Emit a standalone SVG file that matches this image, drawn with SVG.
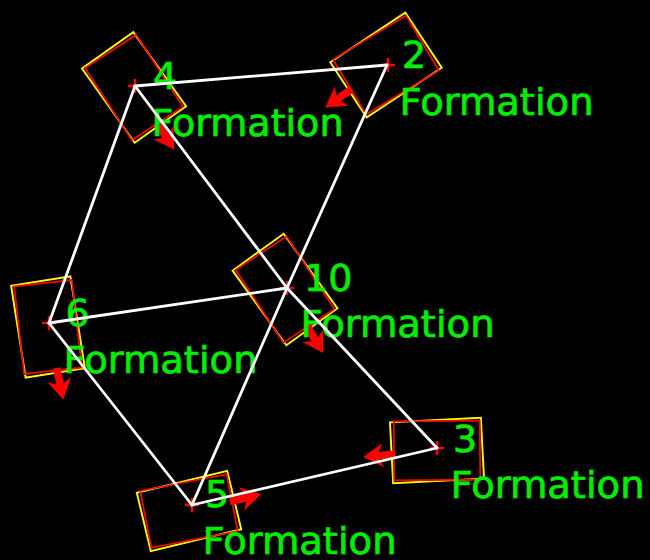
<svg xmlns="http://www.w3.org/2000/svg" xmlns:xlink="http://www.w3.org/1999/xlink" width="650" height="560" viewBox="0 0 650 560">
<style>
.y{fill:none;stroke:#ffff00;stroke-width:1.9}
.r{fill:none;stroke:#ff0000;stroke-width:1.7}
.arr{fill:#ff0000}
.x{fill:none;stroke:#ff0000;stroke-width:2.5}
.t{fill:#00ee00;stroke:#00ee00;stroke-width:0.7;font-family:"DejaVu Sans","Liberation Sans",sans-serif;font-size:38px}
.c line{stroke:#ffffff;stroke-width:2.8;stroke-linecap:round}
</style>
<defs>
<polygon id="arrow" points="42,-3.8 58,-3.8 54,-12 74,0 54,12 58,3.8 42,3.8"/>
<path id="cross" d="M-7 0H7M0 -7V7"/>
</defs>
<rect width="650" height="560" fill="#000"/>

<g id="robot-4">
<rect class="y" x="-45.5" y="-31.5" width="91" height="63" transform="translate(134,87.4) rotate(54.6)"/>
<rect class="r" x="-43" y="-30.5" width="86" height="61" transform="translate(134,87.4) rotate(57)"/>
<use href="#arrow" xlink:href="#arrow" class="arr" transform="translate(134,87.4) rotate(57)"/>
<use href="#cross" xlink:href="#cross" class="x" transform="translate(135,86)"/>
<text class="t" x="153" y="89">4</text>
<text class="t" x="151.5" y="136" textLength="192" lengthAdjust="spacingAndGlyphs">Formation</text>
</g>

<g id="robot-2">
<rect class="y" x="-45" y="-33" width="90" height="66" transform="translate(386,65) rotate(-33.5)"/>
<rect class="r" x="-42.5" y="-32" width="85" height="64" transform="translate(386,65) rotate(-31)"/>
<use href="#arrow" xlink:href="#arrow" class="arr" transform="translate(386,65) rotate(145)"/>
<use href="#cross" xlink:href="#cross" class="x" transform="translate(388,65)"/>
<text class="t" x="402" y="68">2</text>
<text class="t" x="399.5" y="114.5" textLength="194" lengthAdjust="spacingAndGlyphs">Formation</text>
</g>

<g id="robot-10">
<rect class="y" x="-46" y="-31.5" width="92" height="63" transform="translate(285,289.5) rotate(54.2)"/>
<rect class="r" x="-43.5" y="-30.5" width="87" height="61" transform="translate(285,289.5) rotate(56.7)"/>
<use href="#arrow" xlink:href="#arrow" class="arr" transform="translate(285,289.5) rotate(59)"/>
<use href="#cross" xlink:href="#cross" class="x" transform="translate(287,288)"/>
<text class="t" x="304" y="291">10</text>
<text class="t" x="300.5" y="337" textLength="194" lengthAdjust="spacingAndGlyphs">Formation</text>
</g>

<g id="robot-6">
<rect class="y" x="-46.5" y="-30" width="93" height="60" transform="translate(48,327) rotate(81)"/>
<rect class="r" x="-44" y="-29" width="88" height="58" transform="translate(48,327) rotate(83.5)"/>
<use href="#arrow" xlink:href="#arrow" class="arr" transform="translate(48,327) rotate(78)"/>
<use href="#cross" xlink:href="#cross" class="x" transform="translate(49,323)"/>
<text class="t" x="65.5" y="326">6</text>
<text class="t" x="63.5" y="373" textLength="194" lengthAdjust="spacingAndGlyphs">Formation</text>
</g>

<g id="robot-3">
<rect class="y" x="-45.5" y="-30.5" width="91" height="61" transform="translate(437,450.5) rotate(-3)"/>
<rect class="r" x="-43" y="-29.5" width="86" height="59" transform="translate(437,450.5) rotate(-0.5)"/>
<use href="#arrow" xlink:href="#arrow" class="arr" transform="translate(437,450.5) rotate(175)"/>
<use href="#cross" xlink:href="#cross" class="x" transform="translate(437,448)"/>
<text class="t" x="453" y="452">3</text>
<text class="t" x="450.5" y="498" textLength="194" lengthAdjust="spacingAndGlyphs">Formation</text>
</g>

<g id="robot-5">
<rect class="y" x="-46.5" y="-30" width="93" height="60" transform="translate(189,511) rotate(-13.5)"/>
<rect class="r" x="-44" y="-29" width="88" height="58" transform="translate(189,511) rotate(-11)"/>
<use href="#arrow" xlink:href="#arrow" class="arr" transform="translate(189,511) rotate(-13)"/>
<use href="#cross" xlink:href="#cross" class="x" transform="translate(192,505)"/>
<text class="t" x="205" y="507">5</text>
<text class="t" x="202.5" y="554" textLength="194" lengthAdjust="spacingAndGlyphs">Formation</text>
</g>

<g id="connectors" class="c">
<line x1="135" y1="86" x2="387" y2="65"/>
<line x1="387" y1="65" x2="287" y2="288"/>
<line x1="287" y1="288" x2="192" y2="505"/>
<line x1="135" y1="86" x2="287" y2="288"/>
<line x1="287" y1="288" x2="437" y2="448"/>
<line x1="135" y1="86" x2="49" y2="323"/>
<line x1="49" y1="323" x2="287" y2="288"/>
<line x1="49" y1="323" x2="192" y2="505"/>
<line x1="192" y1="505" x2="437" y2="448"/>
</g>
</svg>
